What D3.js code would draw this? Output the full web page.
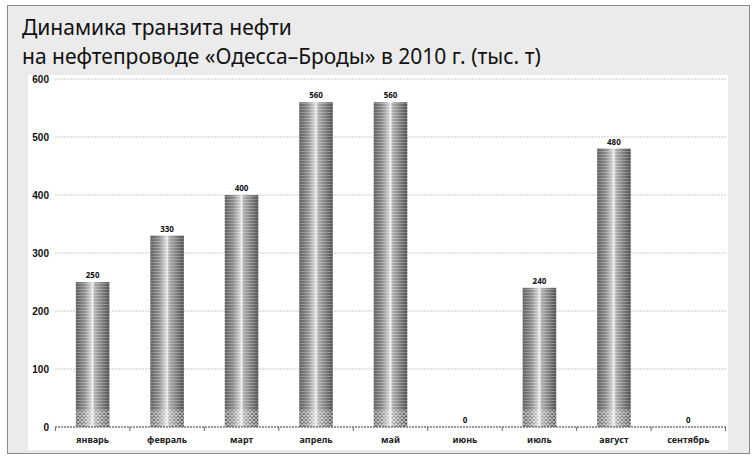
<!DOCTYPE html>
<html>
<head>
<meta charset="utf-8">
<script src="https://cdn.jsdelivr.net/npm/d3@7"></script>
<style>
  body { margin: 0; background: #fff; }
  svg { display: block; font-family: "Noto Sans", sans-serif; }
</style>
</head>
<body>
<div id="chart"></div>
<script>
// data
const months = ['январь', 'февраль', 'март', 'апрель', 'май', 'июнь', 'июль', 'август', 'сентябрь'];
const values = [250, 330, 400, 560, 560, 0, 240, 480, 0];
const yTicks = [0, 100, 200, 300, 400, 500, 600];
const titleLines = ['Динамика транзита нефти', 'на нефтепроводе «Одесса–Броды» в 2010 г. (тыс. т)'];

const width = 754, height = 458;
const margin = { top: 79, right: 28, bottom: 31, left: 55 };

const svg = d3.select('#chart').append('svg')
    .attr('width', width)
    .attr('height', height);

// frame + white plot panel
svg.append('rect')
    .attr('x', 7.5).attr('y', 5.5)
    .attr('width', 742).attr('height', 448)
    .attr('fill', '#ebebeb')
    .attr('stroke', '#8a8a8a');

svg.append('rect')
    .attr('x', 28).attr('y', 75)
    .attr('width', 700).attr('height', 375)
    .attr('fill', '#fff');

svg.selectAll('.title')
    .data(titleLines)
    .join('text')
    .attr('class', 'title')
    .attr('x', 22)
    .attr('y', (d, i) => 35 + i * 29)
    .attr('font-size', '21px')
    .attr('fill', '#111')
    .text(d => d);

const defs = svg.append('defs');

// cylinder-ish shading of the bars
const grad = defs.append('linearGradient').attr('id', 'barGrad');
[['0%', '#5e5e5e'], ['25%', '#8c8c8c'], ['45%', '#cfcfcf'], ['50%', '#f0f0f0'],
 ['56%', '#b0b0b0'], ['80%', '#7c7c7c'], ['100%', '#505050']]
    .forEach(s => grad.append('stop').attr('offset', s[0]).attr('stop-color', s[1]));

// thin horizontal stripes over the bars
const stripes = defs.append('pattern')
    .attr('id', 'stripes')
    .attr('patternUnits', 'userSpaceOnUse')
    .attr('width', 4).attr('height', 3);
stripes.append('rect')
    .attr('width', 4).attr('height', 1)
    .attr('fill', 'rgba(255,255,255,0.25)');

// checker look near the base
const checker = defs.append('pattern')
    .attr('id', 'checker')
    .attr('patternUnits', 'userSpaceOnUse')
    .attr('width', 4).attr('height', 4);
checker.append('rect').attr('width', 2).attr('height', 2).attr('fill', 'rgba(255,255,255,0.45)');
checker.append('rect').attr('x', 2).attr('y', 2).attr('width', 2).attr('height', 2).attr('fill', 'rgba(255,255,255,0.45)');

const innerW = 671;
const innerH = 427 - margin.top;

const chart = svg.append('g')
    .attr('transform', `translate(${margin.left},${margin.top})`);

const x = d3.scaleBand()
    .domain(months)
    .range([0, innerW])
    .paddingInner(0.55)
    .paddingOuter(0.28);

const y = d3.scaleLinear()
    .domain([0, 600])
    .range([innerH, 0]);

// grid
chart.append('g')
    .selectAll('line')
    .data(yTicks.filter(d => d > 0))
    .join('line')
    .attr('x1', 0).attr('x2', innerW)
    .attr('y1', d => y(d)).attr('y2', d => y(d))
    .attr('stroke', '#c8c8c8')
    .attr('stroke-dasharray', '2,1');

// y axis labels (no line)
const yAxis = chart.append('g')
    .call(d3.axisLeft(y).tickValues(yTicks).tickSize(0).tickPadding(6));
yAxis.select('.domain').remove();
yAxis.selectAll('text')
    .attr('font-size', '10px')
    .attr('font-weight', 'bold')
    .attr('fill', '#111');

// bars
const bars = chart.append('g')
    .selectAll('g')
    .data(months.map((m, i) => ({ month: m, value: values[i] })))
    .join('g');

bars.append('rect')
    .attr('x', d => x(d.month))
    .attr('y', d => y(d.value))
    .attr('width', x.bandwidth())
    .attr('height', d => innerH - y(d.value))
    .attr('fill', 'url(#barGrad)');

bars.append('rect')
    .attr('x', d => x(d.month))
    .attr('y', d => y(d.value))
    .attr('width', x.bandwidth())
    .attr('height', d => innerH - y(d.value))
    .attr('fill', 'url(#stripes)');

bars.filter(d => d.value > 0).append('rect')
    .attr('x', d => x(d.month))
    .attr('y', innerH - 17)
    .attr('width', x.bandwidth())
    .attr('height', 17)
    .attr('fill', 'url(#checker)');

// value labels
bars.append('text')
    .attr('x', d => x(d.month) + x.bandwidth() / 2)
    .attr('y', d => y(d.value) - 4)
    .attr('text-anchor', 'middle')
    .attr('font-size', '8px')
    .attr('font-weight', 'bold')
    .attr('fill', '#111')
    .text(d => d.value);

// x axis
const xAxisG = chart.append('g')
    .attr('transform', `translate(0,${innerH})`);
xAxisG.append('line')
    .attr('x1', 0).attr('x2', innerW)
    .attr('stroke', '#777')
    .attr('stroke-width', 1.5)
    .attr('stroke-dasharray', '2,1');
const off = (innerW - x.step() * months.length) / 2;
xAxisG.selectAll('.tick')
    .data(d3.range(months.length + 1))
    .join('line')
    .attr('x1', i => i * x.step() + off)
    .attr('x2', i => i * x.step() + off)
    .attr('y1', 0).attr('y2', 4)
    .attr('stroke', '#666');
xAxisG.selectAll('.lbl')
    .data(months)
    .join('text')
    .attr('x', d => x(d) + x.bandwidth() / 2)
    .attr('y', 16)
    .attr('text-anchor', 'middle')
    .attr('font-size', '9px')
    .attr('font-weight', 'bold')
    .attr('fill', '#222')
    .text(d => d);
</script>
</body>
</html>
